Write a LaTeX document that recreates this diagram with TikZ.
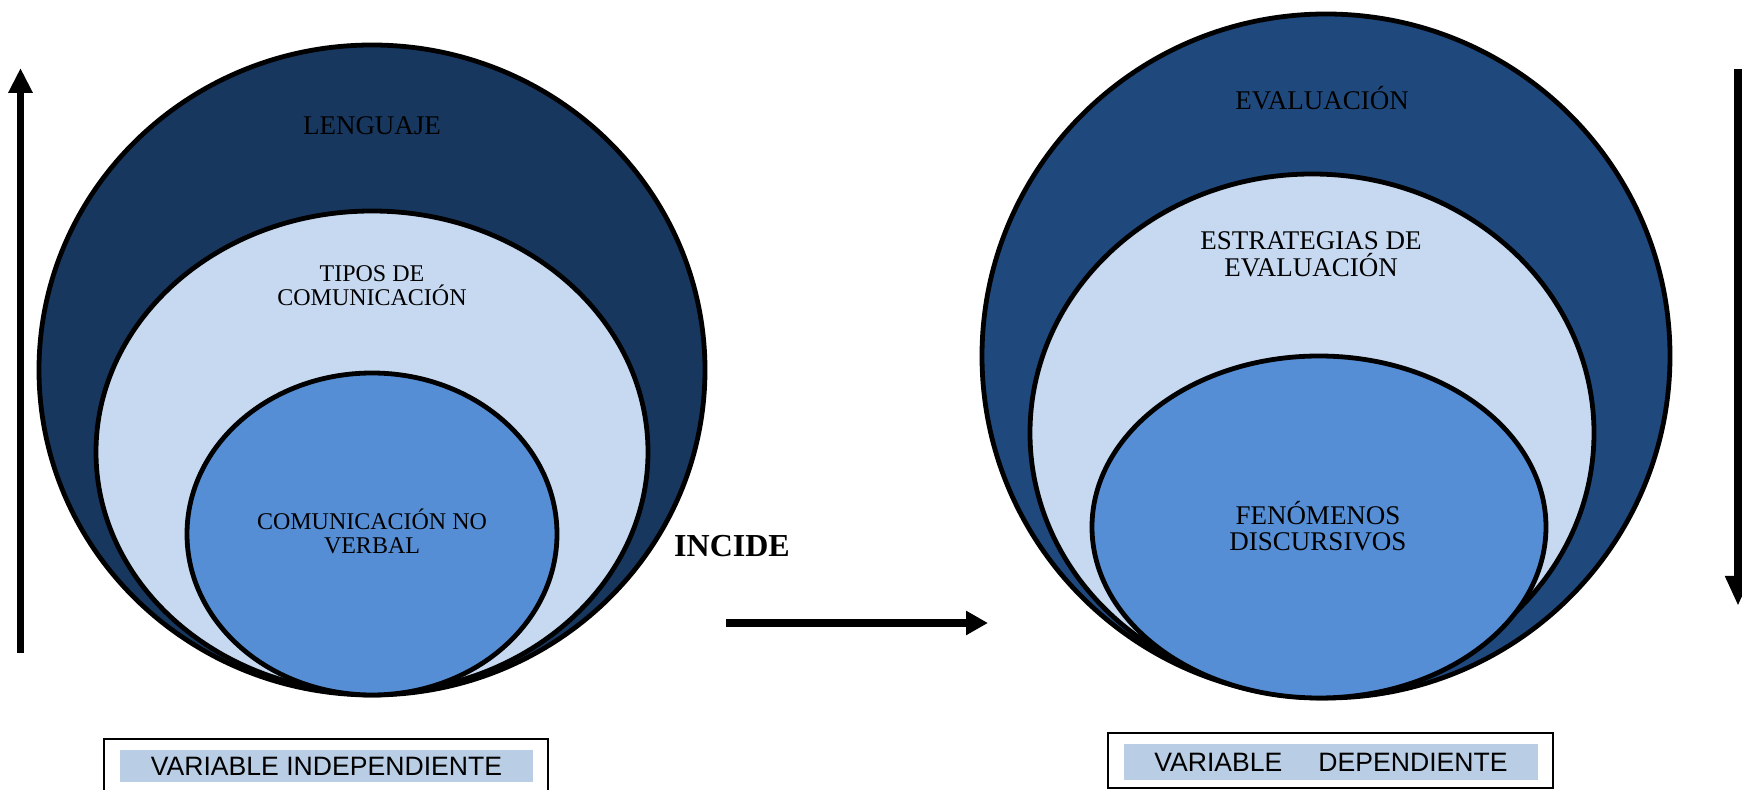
\documentclass[tikz,border=0pt]{standalone}
\usepackage{fontspec}
\setmainfont{Liberation Serif}
\newfontfamily\arialf{Liberation Sans}
\usetikzlibrary{shapes.geometric,arrows.meta}
\definecolor{navyL}{HTML}{17375E}
\definecolor{navyR}{HTML}{1F497D}
\definecolor{paleblue}{HTML}{C6D9F1}
\definecolor{midblue}{HTML}{558ED5}
\definecolor{boxfill}{HTML}{B9CDE5}
\begin{document}
\begin{tikzpicture}[x=0.5pt,y=-0.5pt,
  ell/.style={ellipse, draw=black, line width=2.4pt, inner sep=0pt, outer sep=0pt},
  lblL/.style={align=center, inner sep=0pt, font=\fontsize{12}{12}\selectfont},
  lblR/.style={align=center, inner sep=0pt, font=\fontsize{13.5}{13.3}\selectfont},
  framebox/.style={draw=black, line width=1pt, fill=white, inner sep=0pt},
  fillbox/.style={fill=boxfill, inner sep=0pt, font=\arialf\fontsize{13.3}{13.3}\selectfont, text height=9.5pt, text depth=0pt},
  bigarrow/.style={draw=black}
]
\useasboundingbox (0,0) rectangle (1742,790);

% left diagram
\node[ell, fill=navyL, minimum width=333pt, minimum height=325pt] (lout) at (372,370) {};
\node[ell, fill=paleblue, minimum width=276pt, minimum height=241pt] (lmid) at (372,452) {};
\node[ell, fill=midblue, minimum width=185pt, minimum height=161pt] (lin) at (372,534) {};
\node[lblL, anchor=base, font=\fontsize{13.5}{13.5}\selectfont] (tlen) at (372,135) {LENGUAJE};
\node[lblL] (ttip) at (372,286) {TIPOS DE\\COMUNICACIÓN};
\node[lblL] (tcnv) at (372,531) {COMUNICACIÓN NO\\VERBAL};

% right diagram
\node[ell, fill=navyR, minimum width=344pt, minimum height=342pt] (rout) at (1326,356) {};
\node[ell, fill=paleblue, minimum width=282pt, minimum height=259pt] (rmid) at (1312,433) {};
\node[ell, fill=midblue, minimum width=227pt, minimum height=171pt] (rin) at (1319,527) {};
\node[lblR, anchor=base] (teva) at (1322,109.5) {EVALUACIÓN};
\node[lblR] (test) at (1311,254) {ESTRATEGIAS DE\\EVALUACIÓN};
\node[lblR] (tfen) at (1318,526) {FENÓMENOS\\DISCURSIVOS};

% incide
\node[anchor=base, inner sep=0pt, font=\bfseries\fontsize{16}{16}\selectfont] (tinc) at (732,557) {INCIDE};

% arrows
\coordinate (a1s) at (20.5,653);
\coordinate (a1e) at (20.5,68);
\draw[bigarrow, line width=3.5pt, -{Triangle[length=12.5pt,width=11.5pt]}] (a1s) -- (a1e);
\coordinate (a2s) at (726,623);
\coordinate (a2e) at (988,623);
\draw[bigarrow, line width=4.3pt, -{Triangle[length=11pt,width=11.5pt]}] (a2s) -- (a2e);
\coordinate (a3s) at (1738,69);
\coordinate (a3e) at (1738,606);
\draw[bigarrow, line width=4pt, -{Triangle[length=15pt,width=12pt]}] (a3s) -- (a3e);

% variable boxes
\node[framebox, minimum width=222pt, minimum height=30pt] (lbox) at (326,769) {};
\node[fillbox, minimum width=206.5pt, minimum height=16pt] (lfill) at (326.5,766) {VARIABLE INDEPENDIENTE};
\node[framebox, minimum width=222.5pt, minimum height=27.5pt] (rbox) at (1330.5,760.5) {};
\node[fillbox, minimum width=207pt, minimum height=18pt] (rfill) at (1331,762) {VARIABLE\hspace{18pt}DEPENDIENTE};
\end{tikzpicture}
\end{document}
